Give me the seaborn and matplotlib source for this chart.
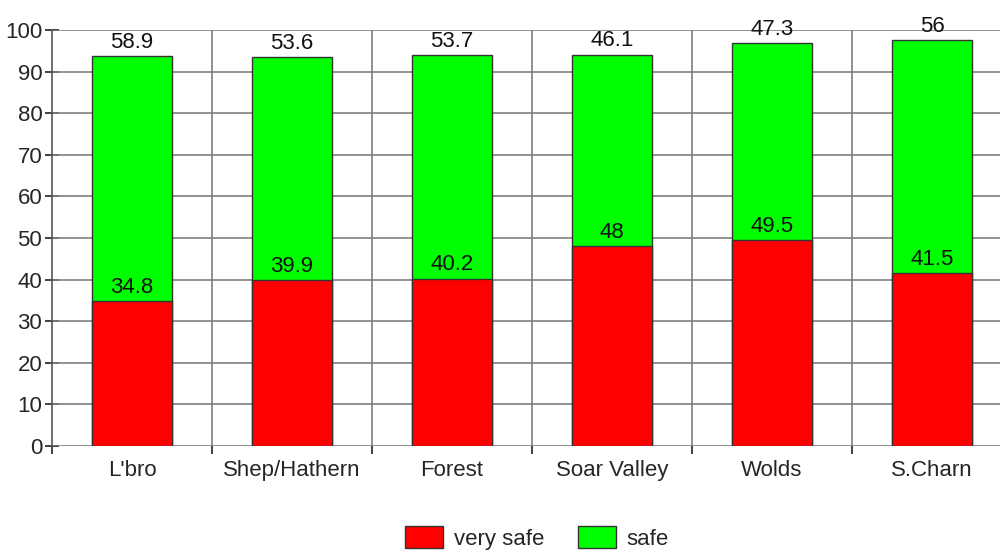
import numpy as np
import pandas as pd
import matplotlib
matplotlib.use("Agg")
import matplotlib.pyplot as plt
from matplotlib.patches import Patch
import seaborn as sns

areas = ["L'bro", "Shep/Hathern", "Forest", "Soar Valley", "Wolds", "S.Charn"]
very_safe = [34.8, 39.9, 40.2, 48, 49.5, 41.5]
safe = [58.9, 53.6, 53.7, 46.1, 47.3, 56]

RED = "#ff0000"
GREEN = "#00ff00"


def fmt(v):
    return f"{v:g}"


def main():
    sns.set_style("white")
    plt.rcParams['font.family'] = ['Liberation Sans Narrow', 'Liberation Sans', 'DejaVu Sans']
    fs = 16

    df = pd.DataFrame({"area": areas, "very safe": very_safe, "safe": safe})
    df["total"] = df["very safe"] + df["safe"]

    fig = plt.figure(figsize=(10, 5.53), dpi=100)
    ax = fig.add_axes([0.052, 0.1935, 0.96, 0.7523])

    # stacked look: full total in green, very safe drawn over it in red
    sns.barplot(data=df, x="area", y="total", color=GREEN, saturation=1,
                width=0.5, edgecolor="#333333", linewidth=1, ax=ax, zorder=3)
    sns.barplot(data=df, x="area", y="very safe", color=RED, saturation=1,
                width=0.5, edgecolor="#333333", linewidth=1, ax=ax, zorder=4)

    ax.set_xlim(-0.5, 5.5)
    ax.set_ylim(0, 100)
    ax.set_yticks(np.arange(0, 101, 10))
    ax.set_xlabel("")
    ax.set_ylabel("")

    # grid: horizontal at every 10, vertical between categories
    for y in np.arange(0, 101, 10):
        ax.axhline(y, color="#7f7f7f", lw=1.2, zorder=1)
    for x in np.arange(0.5, 6, 1):
        ax.axvline(x, color="#7f7f7f", lw=1.2, zorder=1)

    for s in ["top", "right", "bottom"]:
        ax.spines[s].set_visible(False)
    ax.spines["left"].set_color("#555555")
    ax.spines["left"].set_linewidth(1.2)

    ax.tick_params(axis="y", direction="inout", length=10, width=1.2,
                   color="#222222", labelsize=fs, pad=2, left=True)
    ax.tick_params(axis="x", which="major", length=0, labelsize=fs, pad=10)
    ax.set_xticks(np.arange(-0.5, 6, 1), minor=True)
    ax.tick_params(axis="x", which="minor", direction="out", length=6,
                   width=1.2, color="#222222", bottom=True)

    for i, (r, g) in enumerate(zip(very_safe, safe)):
        ax.text(i, r + 0.8, fmt(r), ha="center", va="bottom", fontsize=fs,
                color="#111111", zorder=5)
        ax.text(i, r + g + 0.8, fmt(g), ha="center", va="bottom", fontsize=fs,
                color="#111111", zorder=5, clip_on=False)

    handles = [Patch(facecolor=RED, edgecolor="#333333", label="very safe"),
               Patch(facecolor=GREEN, edgecolor="#333333", label="safe")]
    fig.legend(handles=handles, loc="lower center", bbox_to_anchor=(0.537, -0.03),
               ncol=2, frameon=False, fontsize=fs, handlelength=1.7,
               handleheight=1.1, columnspacing=1.5, handletextpad=0.5)

    fig.savefig("out.png", dpi=100)
    plt.close(fig)


if __name__ == '__main__':
    main()
